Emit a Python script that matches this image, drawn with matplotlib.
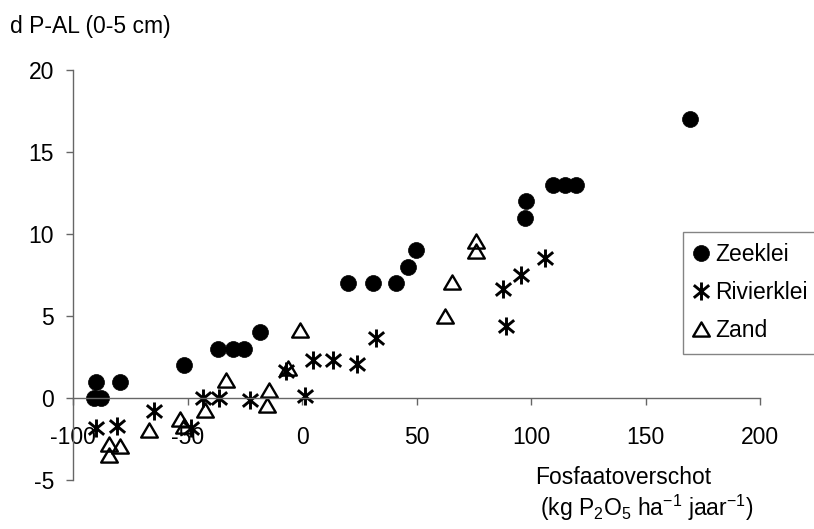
import matplotlib
matplotlib.use("Agg")
import matplotlib.pyplot as plt
from matplotlib.path import Path

plt.rcParams["font.family"] = ["Liberation Sans", "DejaVu Sans"]
plt.rcParams["mathtext.fontset"] = "custom"
plt.rcParams["mathtext.rm"] = "Liberation Sans"
plt.rcParams["axes.unicode_minus"] = False

# data
zeeklei_x = [-91, -88, -90, -79.5, -51.7, -36.9, -30.3, -25.6, -18.6, 19.9,
             30.8, 40.7, 46.1, 49.5, 97.1, 97.8, 109.4, 114.5, 119.3, 169.1]
zeeklei_y = [0, 0, 1, 1, 2, 3, 3, 3, 4, 7, 7, 7, 8, 9, 11, 12, 13, 13, 13, 17]

rivier_x = [-90.2, -81, -64.9, -48.5, -43.2, -36.6, -22.8, -7.2, 1.2, 4.8,
            13.4, 24.0, 32.3, 87.6, 88.8, 95.3, 106.1]
rivier_y = [-1.83, -1.7, -0.8, -1.8, 0, 0, -0.1, 1.65, 0.1, 2.3,
            2.3, 2.1, 3.66, 6.64, 4.41, 7.52, 8.54]

zand_x = [-84.6, -84.4, -79.5, -66.8, -53.5, -51.5, -42.5, -33.2, -15.5,
          -14.5, -6.4, -1.2, 62.1, 65.5, 75.7, 76.0]
zand_y = [-2.8, -3.48, -2.95, -1.95, -1.3, -1.7, -0.72, 1.07, -0.4,
          0.5, 1.8, 4.16, 5.0, 7.1, 8.95, 9.55]

x_ticks = [-100, -50, 0, 50, 100, 150, 200]
y_ticks = [-5, 0, 5, 10, 15, 20]

# excel style asterisk (vertical bar + X) and flat open triangle
asterisk = Path(
    [(0, -1), (0, 1), (-0.85, -0.7), (0.85, 0.7), (-0.85, 0.7), (0.85, -0.7)],
    [Path.MOVETO, Path.LINETO, Path.MOVETO, Path.LINETO, Path.MOVETO, Path.LINETO],
)
triangle = Path([(0, 0.85), (-1, -0.85), (1, -0.85), (0, 0.85)],
                [Path.MOVETO, Path.LINETO, Path.LINETO, Path.CLOSEPOLY])

FS = 16.5

fig = plt.figure(figsize=(8.14, 5.29), dpi=100)
ax = fig.add_axes([0.0901, 0.0926, 0.844, 0.7751])

ax.plot(zeeklei_x, zeeklei_y, "o", color="black", ms=11.5, mew=0.5,
        label="Zeeklei", clip_on=False)
ax.plot(rivier_x, rivier_y, ls="none", marker=asterisk, color="black",
        ms=13, mew=2.1, label="Rivierklei", clip_on=False)
ax.plot(zand_x, zand_y, ls="none", marker=triangle, mfc="none", mec="black",
        ms=12, mew=1.7, label="Zand", clip_on=False)

ax.set_xlim(-100, 200)
ax.set_ylim(-5, 20)
ax.set_xticks(x_ticks)
ax.set_yticks(y_ticks)

for side in ["top", "right"]:
    ax.spines[side].set_visible(False)
ax.spines["bottom"].set_position(("data", 0))
for side in ["left", "bottom"]:
    ax.spines[side].set_color("#666666")
    ax.spines[side].set_linewidth(1.0)

ax.tick_params(axis="both", direction="out", length=5, width=1,
               color="#666666", labelsize=FS)
ax.tick_params(axis="y", pad=9)
ax.tick_params(axis="x", pad=15)

fig.text(10 / 814, 1 - 26 / 529, "d P-AL (0-5 cm)", fontsize=FS, va="center")
fig.text(535 / 814, 1 - 478 / 529, "Fosfaatoverschot", fontsize=FS, va="center")
fig.text(540 / 814, 1 - 508 / 529,
         r"(kg P$_2$O$_5$ ha$^{\mathregular{-1}}$ jaar$^{\mathregular{-1}}$)",
         fontsize=FS, va="center")

leg = ax.legend(loc="upper left", bbox_to_anchor=(683 / 814, 1 - 232 / 529),
                bbox_transform=fig.transFigure, fontsize=FS, frameon=True,
                fancybox=False, edgecolor="#666666", handlelength=0.6,
                handletextpad=0.3, borderpad=0.5, labelspacing=0.65,
                borderaxespad=0)
leg.get_frame().set_linewidth(1.0)

fig.savefig("out.png", dpi=100)
